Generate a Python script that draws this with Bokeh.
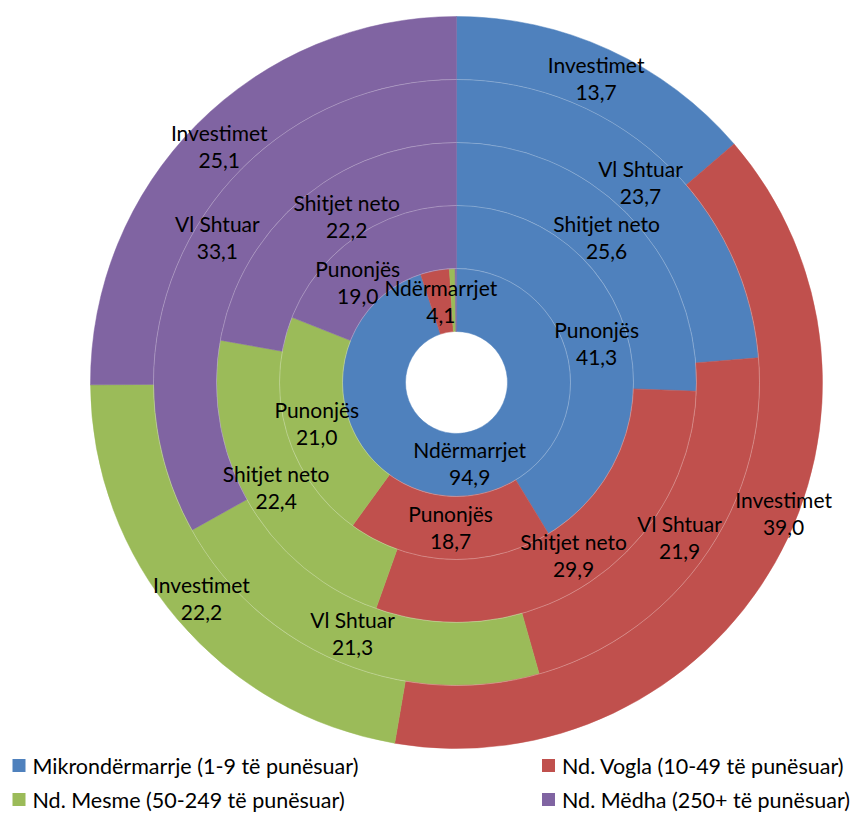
import math
from bokeh.plotting import figure
from bokeh.models import Range1d, ColumnDataSource
from bokeh.core.properties import value
from bokeh.embed import file_html
from bokeh.resources import INLINE

# ---- data ----
categories = ["Mikrondërmarrje (1-9 të punësuar)", "Nd. Vogla (10-49 të punësuar)",
              "Nd. Mesme (50-249 të punësuar)", "Nd. Mëdha  (250+ të punësuar)"]
colors = ["#4F81BD", "#C0504D", "#9BBB59", "#8064A2"]
rings = ["Ndërmarrjet", "Punonjës", "Shitjet neto", "Vl Shtuar", "Investimet"]
ndermarrjet = [94.9, 4.1, 0.8, 0.2]
punonjes = [41.3, 18.7, 21.0, 19.0]
shitjet = [25.6, 29.9, 22.4, 22.2]
vlshtuar = [23.7, 21.9, 21.3, 33.1]
investimet = [13.7, 39.0, 22.2, 25.1]
series = [ndermarrjet, punonjes, shitjet, vlshtuar, investimet]

# label nudges (px) for labels moved to avoid overlap
label_nudge = {(4, 1): (36, 34), (2, 3): (24, 6), (1, 3): (-17, -20), (3, 3): (-5, 8)}

FONT = "Lato"
W, H = 866, 814
p = figure(width=W, height=H, output_backend="svg", toolbar_location=None,
           x_range=Range1d(0, W), y_range=Range1d(-H, 0),
           min_border=0)
p.axis.visible = False
p.grid.visible = False
p.outline_line_color = None
p.background_fill_color = "white"

cx, cy = 456, -382
hole = 51
width = 63

wx, wy, wir, wor, wsa, wea, wc = [], [], [], [], [], [], []
lx, ly, lname, lval = [], [], [], []
for ri, vals in enumerate(series):
    total = sum(vals)
    r_in = hole + ri * width
    r_out = r_in + width
    cum = 0.0
    for ci, v in enumerate(vals):
        a0 = math.pi / 2 - 2 * math.pi * cum / total
        a1 = math.pi / 2 - 2 * math.pi * (cum + v) / total
        wx.append(cx); wy.append(cy); wir.append(r_in); wor.append(r_out)
        wsa.append(a0); wea.append(a1); wc.append(colors[ci])
        if v >= 1:
            am = (a0 + a1) / 2
            rm = (r_in + r_out) / 2
            dx, dy = label_nudge.get((ri, ci), (0, 0))
            lx.append(cx + rm * math.cos(am) + dx)
            ly.append(cy + rm * math.sin(am) + dy)
            lname.append(rings[ri])
            lval.append(("%.1f" % v).replace(".", ","))
        cum += v

src = ColumnDataSource(dict(x=wx, y=wy, ir=wir, orr=wor, sa=wsa, ea=wea, c=wc))
p.annular_wedge(x="x", y="y", inner_radius="ir", outer_radius="orr",
                start_angle="sa", end_angle="ea", direction="clock",
                fill_color="c", line_color="c", line_width=0.5, source=src)

# thin white ring separators
for ri in range(1, len(series)):
    p.circle(x=cx, y=cy, radius=hole + ri * width, fill_color=None,
             line_color="white", line_width=0.6, line_alpha=0.45)

lsrc = ColumnDataSource(dict(x=lx, y=ly, n=lname, v=lval))
p.text(x="x", y="y", text="n", source=lsrc, text_align="center", text_baseline="middle",
       y_offset=-14, text_font=value(FONT), text_font_size="21px", text_color="black")
p.text(x="x", y="y", text="v", source=lsrc, text_align="center", text_baseline="middle",
       y_offset=14, text_font=value(FONT), text_font_size="21px", text_color="black")

# legend
leg_x = [18.5, 548, 18.5, 548]
leg_y = [-765, -765, -799, -799]
p.rect(x=leg_x, y=leg_y, width=13, height=13, fill_color=colors, line_color=None)
p.text(x=[x + 13.5 for x in leg_x], y=leg_y, text=categories, text_align="left",
       text_baseline="middle", text_font=value(FONT), text_font_size="21.5px",
       text_color="black")

open("out.html", "w").write(file_html(p, INLINE))
